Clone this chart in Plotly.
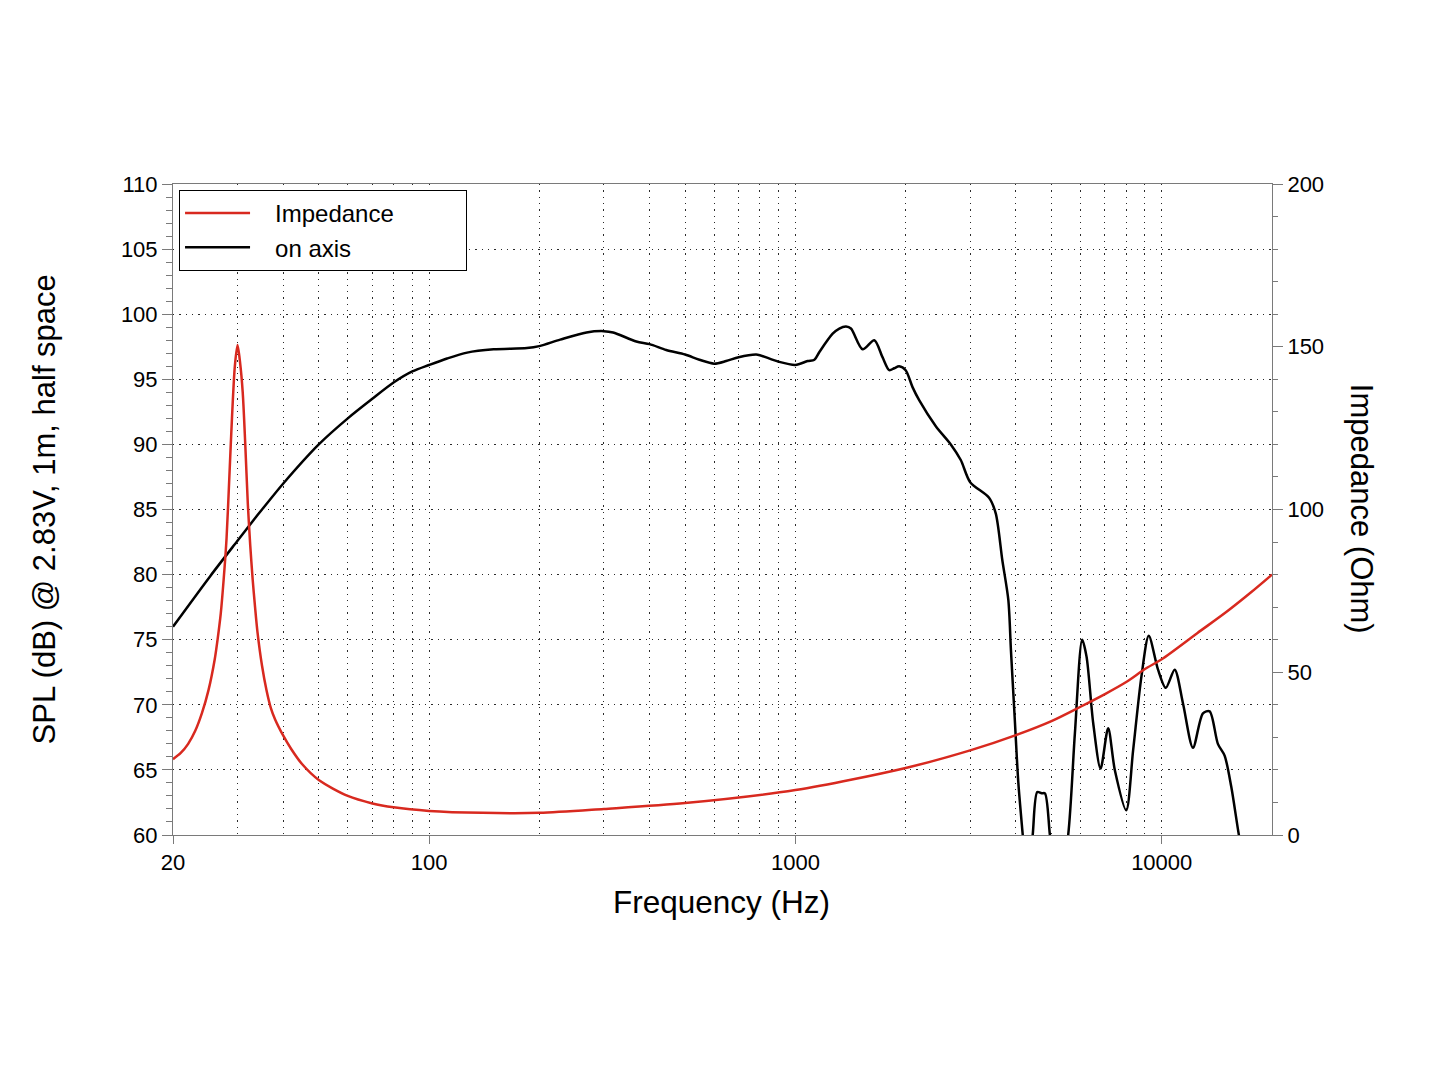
import math
import plotly.graph_objects as go

# ---- data ----
spl_freq = [20, 25.3, 30, 33, 35, 40, 50, 60, 70, 80, 90, 100, 112, 127, 150, 185, 200, 228, 269, 300, 318,
            368, 400, 444, 500, 547, 600, 647, 700, 781, 800, 900, 1000, 1080, 1127, 1163, 1264, 1318, 1375,
            1418, 1526, 1642, 1729, 1804, 1861, 1920, 2000, 2088, 2177, 2417, 2656, 2828, 3000, 3378, 3523,
            3672, 3813, 3876, 3967, 4061, 4175, 4300, 4444, 4574, 4700, 4799, 4952, 5200, 5555, 5794, 6065,
            6234, 6500, 6808, 7141, 7446, 8000, 8354, 8805, 9217, 9771, 10256, 10850, 11431, 12170, 12957,
            13514, 14233, 14848, 15483, 16241, 17000]
spl_db = [76.0, 79.9, 82.6, 84.1, 85.0, 87.0, 90.0, 92.0, 93.5, 94.75, 95.6, 96.1, 96.6, 97.05, 97.3, 97.4,
          97.55, 98.05, 98.6, 98.7, 98.6, 97.9, 97.7, 97.25, 96.9, 96.5, 96.2, 96.4, 96.7, 96.9, 96.85, 96.35,
          96.1, 96.4, 96.5, 97.1, 98.5, 98.9, 99.05, 98.9, 97.3, 98.0, 96.7, 95.7, 95.85, 96.0, 95.7, 94.4,
          93.4, 91.4, 90.0, 88.8, 87.1, 85.9, 84.7, 81.1, 78.05, 74.2, 69.1, 64.0, 60.0, 56.0, 60.0, 63.3,
          63.2, 63.2, 60.0, 55.0, 60.0, 67.8, 75.0, 73.7, 68.6, 65.1, 68.2, 65.0, 61.9, 66.5, 72.2, 75.3,
          72.7, 71.3, 72.7, 70.1, 66.7, 69.35, 69.5, 67.0, 66.1, 63.7, 60.0, 57.0]

imp_freq = [20, 21, 22, 23, 24, 25, 26, 26.5, 27, 27.5, 28, 28.5, 29, 29.5, 30, 30.5, 31, 31.5, 32, 32.5,
            33, 33.5, 34, 35, 36, 37, 38, 40, 42, 45, 50, 60, 70, 80, 100, 140, 200, 300, 500, 1000, 2000,
            3000, 4000, 5000, 6000, 7000, 8000, 9000, 10000, 12500, 15000, 17500, 20000]
imp_ohm = [23.3, 25.2, 28.0, 32.0, 37.5, 44.5, 54, 60.5, 68, 78.5, 91, 110, 129, 144, 150.5, 145, 136, 120,
           102, 89, 78.5, 70, 62.5, 52, 44.5, 39, 35.5, 30.5, 26.5, 21.8, 16.9, 12, 9.7, 8.5, 7.4, 6.8, 6.8,
           8.0, 9.8, 13.8, 20.6, 26, 30.7, 35, 39.4, 43.3, 47, 51, 54, 62, 68.5, 74.5, 80]

x_tickvals = [20, 100, 1000, 10000]
x_ticktext = ["20", "100", "1000", "10000"]
x_minor = [30, 40, 50, 60, 70, 80, 90, 200, 300, 400, 500, 600, 700, 800, 900,
           2000, 3000, 4000, 5000, 6000, 7000, 8000, 9000]
y_tickvals = [60, 65, 70, 75, 80, 85, 90, 95, 100, 105, 110]
y2_tickvals = [0, 50, 100, 150, 200]

FONT = "Liberation Sans, Arial, Helvetica, sans-serif"
AXIS_GRAY = "#7a7a7a"
GRID = "#2a2a2a"
DOTS = "1.3px,5px"
RED = "#d8291f"
NB = "\u00a0"

fig = go.Figure()
fig.add_trace(go.Scatter(x=imp_freq, y=imp_ohm, name=NB * 3 + "Impedance" + NB * 10, yaxis="y2",
                         mode="lines", line=dict(color=RED, width=2.5, shape="spline", smoothing=0.8)))
fig.add_trace(go.Scatter(x=spl_freq, y=spl_db, name=NB * 3 + "on axis", mode="lines",
                         line=dict(color="black", width=2.5, shape="spline", smoothing=0.8)))

fig.update_layout(
    width=1445, height=1084,
    margin=dict(l=165, r=181, t=176, b=257),
    paper_bgcolor="white", plot_bgcolor="white",
    font=dict(family=FONT, color="black", size=22),
    showlegend=True,
    legend=dict(x=0.0055, y=0.9908, xanchor="left", yanchor="top",
                bgcolor="white", bordercolor="black", borderwidth=1,
                font=dict(size=24, family=FONT), itemwidth=65, tracegroupgap=0),
    xaxis=dict(type="log", range=[math.log10(20), math.log10(20000)],
               tickvals=x_tickvals, ticktext=x_ticktext,
               ticks="outside", ticklen=8, tickcolor=AXIS_GRAY, tickwidth=1,
               showline=True, linecolor=AXIS_GRAY, linewidth=1, mirror=True,
               showgrid=True, gridcolor=GRID, griddash=DOTS, gridwidth=1,
               minor=dict(tickvals=x_minor, showgrid=True, gridcolor=GRID,
                          griddash=DOTS, gridwidth=1, ticks=""),
               tickfont=dict(size=22), zeroline=False),
    yaxis=dict(range=[60, 110], tickvals=y_tickvals,
               ticks="outside", ticklen=10, tickcolor=AXIS_GRAY, tickwidth=1,
               showline=True, linecolor=AXIS_GRAY, linewidth=1,
               showgrid=True, gridcolor=GRID, griddash=DOTS, gridwidth=1,
               minor=dict(dtick=1, ticks="outside", ticklen=6, tickcolor=AXIS_GRAY, showgrid=False),
               tickfont=dict(size=22), zeroline=False),
    yaxis2=dict(range=[0, 200], overlaying="y", side="right", tickvals=y2_tickvals,
                ticks="outside", ticklen=10, tickcolor=AXIS_GRAY, tickwidth=1,
                showline=True, linecolor=AXIS_GRAY, linewidth=1, showgrid=False,
                minor=dict(dtick=10, ticks="outside", ticklen=5, tickcolor=AXIS_GRAY, showgrid=False),
                tickfont=dict(size=22), zeroline=False),
    annotations=[
        dict(text="SPL (dB) @ 2.83V, 1m, half space", xref="paper", yref="paper",
             x=-0.1165, y=0.5, xanchor="center", yanchor="middle", textangle=-90,
             showarrow=False, font=dict(size=31, family=FONT)),
        dict(text="Impedance (Ohm)", xref="paper", yref="paper",
             x=1.081, y=0.501, xanchor="center", yanchor="middle", textangle=90,
             showarrow=False, font=dict(size=31, family=FONT)),
        dict(text="Frequency (Hz)", xref="paper", yref="paper",
             x=0.4995, y=-0.103, xanchor="center", yanchor="middle",
             showarrow=False, font=dict(size=31.5, family=FONT)),
    ],
)

fig.write_html("out.html")
